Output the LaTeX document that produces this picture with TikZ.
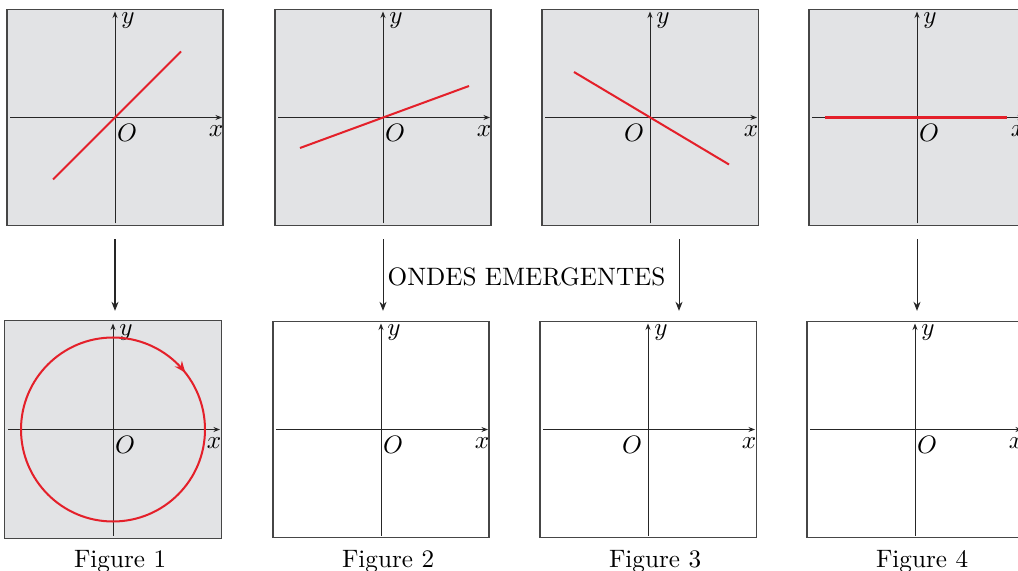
\documentclass[tikz,border=0pt]{standalone}
\usepackage{tikz}
\usetikzlibrary{arrows.meta, positioning, calc, decorations.markings}
\definecolor{panelgray}{HTML}{E2E3E5}
\definecolor{framegray}{HTML}{464646}
\definecolor{wavered}{HTML}{E4202A}

\begin{document}
\begin{tikzpicture}[x=0.397pt, y=0.397pt,
    panel/.style={draw=framegray, line width=0.45pt, minimum size=85.8pt, inner sep=0pt},
    axis/.style={-{Stealth[length=2.6pt,width=2pt]}, line width=0.35pt, black!85},
    wave/.style={wavered, line width=0.8pt},
    flow/.style={-{Stealth[length=3.6pt,width=2.8pt]}, line width=0.4pt, black!85},
    lbl/.style={inner sep=0pt}]
    \useasboundingbox (0,0) rectangle (1018,-571);
    \clip (0,0) rectangle (1018,-571);

    % top row: incident waves
    \foreach \n/\ox/\lx/\ly/\rx/\ry/\ol in {1/115/-62/-62/66/66/12,
                                           2/383/-83/-30.5/86/31.5/12,
                                           3/650/-76/45.5/79/-47/-16}{
        \begin{scope}[shift={(\ox,-117.5)}]
            \node[panel, fill=panelgray] (t\n) at (0,0) {};
            \coordinate (o\n) at (0,0);
            \draw[axis] (-105,0) -- (107,0);
            \draw[axis] (0,-106) -- (0,106);
            \draw[wave] (\lx,\ly) -- (\rx,\ry);
            \node[lbl] (tx\n) at (101,-14) {$x$};
            \node[lbl] (ty\n) at (13,97) {$y$};
            \node[lbl] (tO\n) at (\ol,-15) {$O$};
        \end{scope}
    }
    \begin{scope}[shift={(917,-117.5)}]
        \node[panel, fill=panelgray] (t4) at (0,0) {};
        \coordinate (o4) at (0,0);
        \draw[axis] (-105,0) -- (107,0);
        \draw[axis] (0,-106) -- (0,106);
        \draw[wave, line width=1.2pt] (-92,0) -- (90,0);
        \node[lbl] (tx4) at (101,-14) {$x$};
        \node[lbl] (ty4) at (13,97) {$y$};
        \node[lbl] (tO4) at (12,-15) {$O$};
    \end{scope}

    % bottom row: emergent waves
    \foreach \n/\ox/\ol in {1/113/12, 2/381/12, 3/648/-16, 4/915/12}{
        \begin{scope}[shift={(\ox,-429.5)}]
            \node[panel] (b\n) at (0,0) {};
            \coordinate (p\n) at (0,0);
        \end{scope}
    }
    \fill[panelgray] (b1.south west) rectangle (b1.north east);
    \draw[framegray, line width=0.45pt] (b1.south west) rectangle (b1.north east);
    \foreach \n/\ol in {1/12, 2/12, 3/-16, 4/12}{
        \begin{scope}[shift={(p\n)}]
            \draw[axis] (-105,0) -- (107,0);
            \draw[axis] (0,-106) -- (0,106);
            \node[lbl] (bx\n) at (101,-14) {$x$};
            \node[lbl] (by\n) at (13,97) {$y$};
            \node[lbl] (bO\n) at (\ol,-15) {$O$};
        \end{scope}
        \node[below=1.2pt of b\n, xshift=2.8pt] (cap\n) {Figure \n};
    }
    \draw[wave, decoration={markings,
            mark=at position 0.144 with {\arrow{Stealth[length=4.5pt,width=3.6pt]}}},
        postaction=decorate] ($(p1)+(0,92)$) arc[start angle=90, end angle=-270, radius=92];

    % arrows between the rows
    \foreach \n/\ax in {1/0, 2/0, 3/29, 4/0}{
        \draw[flow] ($(t\n.south)+(\ax,-13)$) -- ($(t\n.south |- b\n.north)+(\ax,10)$);
    }
    \node[lbl] (emerg) at (526.5,-277) {ONDES EMERGENTES};
\end{tikzpicture}
\end{document}
